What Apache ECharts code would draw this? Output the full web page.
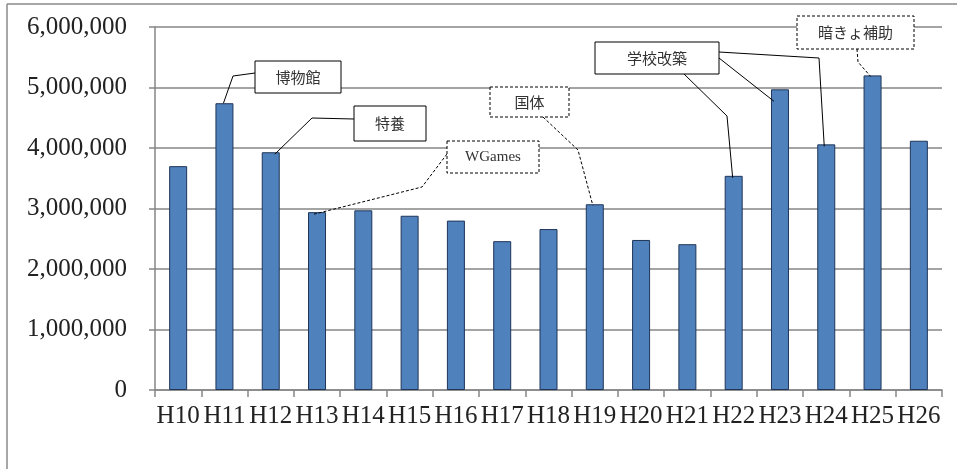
<!DOCTYPE html>
<html>
<head>
<meta charset="utf-8">
<script src="https://cdn.jsdelivr.net/npm/echarts@6/dist/echarts.min.js"></script>
<style>
html,body{margin:0;padding:0;background:#fff;}
#chart{width:957px;height:469px;}
</style>
</head>
<body>
<div id="chart"></div>
<script>
const categories = ['H10','H11','H12','H13','H14','H15','H16','H17','H18','H19','H20','H21','H22','H23','H24','H25','H26'];
const values = [3700000,4740000,3930000,2940000,2970000,2880000,2800000,2460000,2660000,3070000,2480000,2410000,3540000,4970000,4060000,5200000,4120000];
const yTicks = [0,1000000,2000000,3000000,4000000,5000000,6000000];

// annotation texts and the category each callout points to
const noteTexts = ['博物館','特養','WGames','国体','学校改築','暗きょ補助'];
const noteTargets = [[1],[2],[3],[9],[12,13,14],[15]];

const chart = echarts.init(document.getElementById('chart'));
const gray = '#868686';
const option = {
  animation:false,
  backgroundColor:'#fff',
  grid:{left:155,right:15,top:27,bottom:79,containLabel:false},
  xAxis:{
    type:'category',
    data:categories,
    boundaryGap:true,
    axisLine:{lineStyle:{color:gray,width:1.5}},
    axisTick:{show:true,length:7,lineStyle:{color:gray,width:1.5}},
    axisLabel:{color:'#222',fontFamily:'Liberation Serif',fontSize:25,margin:14,interval:0}
  },
  yAxis:{
    type:'value',
    min:yTicks[0],max:yTicks[yTicks.length-1],interval:yTicks[1]-yTicks[0],
    axisLine:{show:true,lineStyle:{color:gray,width:1.5}},
    axisTick:{show:true,length:6,lineStyle:{color:gray,width:1.5}},
    splitLine:{lineStyle:{color:gray,width:1.5}},
    axisLabel:{color:'#222',fontFamily:'Liberation Serif',fontSize:25,margin:28,
      formatter:v=>v.toLocaleString('en-US')}
  },
  series:[{
    type:'bar',
    data:values,
    barWidth:18,
    itemStyle:{color:'#4F81BD',borderColor:'#1F3558',borderWidth:1}
  }]
};
chart.setOption(option);

// layout of annotation boxes (pixels) and callout elbows
const boxes = [
  {x:255,y:61,w:86,h:32,dash:false,font:'Noto Sans CJK JP'},
  {x:354,y:106,w:72,h:35,dash:false,font:'Noto Sans CJK JP'},
  {x:447,y:141,w:92,h:32,dash:true,font:'Liberation Serif'},
  {x:490,y:87,w:79,h:30,dash:true,font:'Noto Sans CJK JP'},
  {x:595,y:42,w:124,h:32,dash:false,font:'Noto Sans CJK JP'},
  {x:797,y:16,w:117,h:33,dash:true,font:'Noto Sans CJK JP'}
];
// for each target: [start point, elbow points..., offset at bar end]
const callouts = [
  [[[255,73],[233,76]],[-1,0]],
  [[[354,119],[312,118]],[4,2]],
  [[[447,154],[422,187]],[-3,2]],
  [[[543,117],[578,150]],[-2,1]],
  [[[684,74],[727,116]],[-1,2]],
  [[[719,58]],[-6,12]],
  [[[719,52],[819,58]],[-2,2]],
  [[[857,49],[858,62]],[-2,1]]
];

const graphics = [];
graphics.push({type:'line',shape:{x1:7,y1:4,x2:957,y2:4},style:{stroke:'#8a8a8a',lineWidth:1.5},z:100});
graphics.push({type:'line',shape:{x1:7,y1:4,x2:7,y2:469},style:{stroke:'#8a8a8a',lineWidth:1.5},z:100});

let ci = 0;
noteTexts.forEach((t,i)=>{
  const b = boxes[i];
  noteTargets[i].forEach(idx=>{
    const c = callouts[ci++];
    const p = chart.convertToPixel({seriesIndex:0},[idx,values[idx]]);
    const pts = c[0].concat([[p[0]+c[1][0],p[1]+c[1][1]]]);
    graphics.push({type:'polyline',shape:{points:pts},
      style:{stroke:'#000',lineWidth:1,fill:null,lineDash:b.dash?[3,2]:null},z:110});
  });
  graphics.push({type:'rect',shape:{x:b.x,y:b.y,width:b.w,height:b.h},
    style:{fill:'#fff',stroke:'#000',lineWidth:1,lineDash:b.dash?[3,2]:null},z:120});
  graphics.push({type:'text',x:b.x+b.w/2,y:b.y+b.h/2,
    style:{text:t,fill:'#333',font:'15px "'+b.font+'"',align:'center',verticalAlign:'middle'},z:130});
});
chart.setOption({graphic:graphics});
</script>
</body>
</html>
